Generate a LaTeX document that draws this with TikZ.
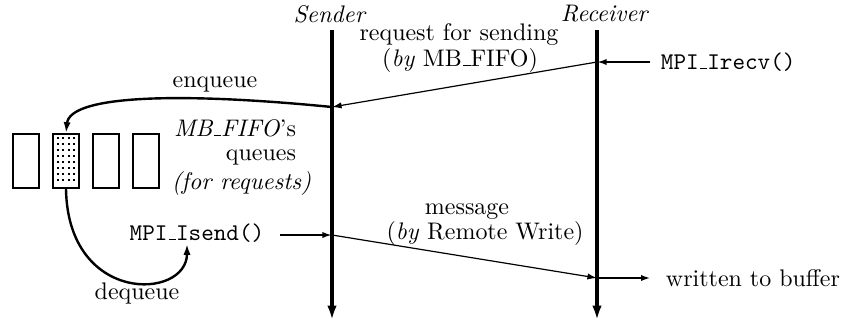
\documentclass[tikz,border=0pt]{standalone}
\usetikzlibrary{arrows.meta, positioning}
% a short low bar for names like MB_FIFO
\newcommand{\usc}{\leavevmode\kern.06em\vbox{\hrule width.3em}}
\tikzset{
  every picture/.style={x=0.417pt, y=-0.417pt, line width=0.8pt},
  lifeline/.style={-{Latex[length=6pt, width=4pt]}, line width=1.5pt},
  msg/.style={-{Latex[length=4pt, width=2.6pt]}, line width=0.5pt},
  call/.style={-{Latex[length=4pt, width=2.6pt]}, line width=0.9pt},
  flow/.style={-{Latex[length=4.5pt, width=3pt]}, line width=1pt},
  queue/.style={draw, line width=0.9pt, minimum width=10.5pt, minimum height=22.5pt, inner sep=0pt},
  lbl/.style={inner sep=0pt},
}
\begin{document}
\begin{tikzpicture}
  \useasboundingbox (0,0) rectangle (842,324);
  % the two processes
  \node[lbl] (sender) at (330,14) {\textit{Sender}};
  \node[lbl] (receiver) at (605,14) {\textit{Receiver}};
  \coordinate (s-top) at (332,30);
  \coordinate (s-end) at (332,320);
  \coordinate (r-top) at (597,30);
  \coordinate (r-end) at (597,320);
  \draw[lifeline] (s-top) -- (s-end);
  \draw[lifeline] (r-top) -- (r-end);
  % request for sending
  \coordinate (r-req) at (597,62);
  \coordinate (s-req) at (332,107);
  \node[lbl, anchor=west] (irecv) at (660,62) {\texttt{MPI\usc Irecv()}};
  \draw[call, shorten <=4pt] (irecv.west) -- (r-req);
  \draw[msg] (r-req) -- (s-req);
  \node[lbl] (req1) at (459,35) {request for sending};
  \node[lbl] (req2) at (460,60) {(\textit{by} MB\usc FIFO)};
  % the message itself
  \coordinate (s-msg) at (332,235);
  \coordinate (r-msg) at (597,278);
  \node[lbl] (isend) at (197,233) {\texttt{MPI\usc Isend()}};
  \draw[call, shorten <=6pt] (isend.east |- s-msg) -- (s-msg);
  \draw[msg] (s-msg) -- (r-msg);
  \node[lbl, anchor=west] (buf) at (665,278) {written to buffer};
  \draw[call, shorten >=6pt] (r-msg) -- (buf.west);
  \node[lbl] (msg1) at (467,212) {message};
  \node[lbl] (msg2) at (485,233) {(\textit{by} Remote Write)};
  % queues of the fifo, the second one in use
  \foreach \i in {1,...,4}
    \node[queue] (q\i) at ({40*\i-14},161) {};
  \foreach \c in {0,...,3}
    \foreach \r in {0,...,7}
      \fill ([shift={(5.5+5.5*\c,5+6*\r)}]q2.north west) +(-1,-1) rectangle +(1,1);
  \node[lbl, anchor=east] (fifo1) at (297,128) {\textit{MB\usc FIFO}'s};
  \node[lbl, anchor=east] (fifo2) at (297,157) {queues};
  \node[lbl, anchor=east] (fifo3) at (312,183) {\textit{(for requests)}};
  % in and out of the queue
  \coordinate (deq-end) at (187,244);
  \draw[flow] (s-req) .. controls (180,92) and (70,95) .. (q2.north);
  \draw[flow] (q2.south) .. controls (68,305) and (187,300) .. (deq-end);
  \node[lbl] (enq) at (215,84) {enqueue};
  \node[lbl] (deq) at (137,293) {dequeue};
\end{tikzpicture}
\end{document}
